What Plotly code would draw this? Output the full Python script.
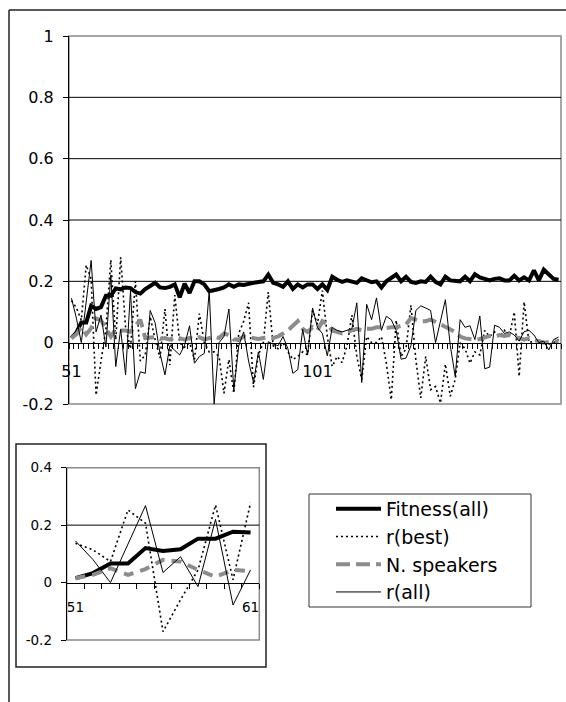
import plotly.graph_objects as go

# ---------------- data ----------------
generations = list(range(51, 151))

fitness_all = [0.015, 0.033, 0.066, 0.066, 0.12, 0.11, 0.116, 0.153, 0.153, 0.177,
               0.174, 0.18, 0.178, 0.165, 0.16, 0.175, 0.185, 0.195, 0.18, 0.178,
               0.182, 0.19, 0.148, 0.192, 0.162, 0.2, 0.2, 0.19, 0.168, 0.17,
               0.175, 0.18, 0.19, 0.182, 0.19, 0.188, 0.19, 0.195, 0.198, 0.2,
               0.222, 0.195, 0.19, 0.182, 0.2, 0.175, 0.19, 0.18, 0.19, 0.19,
               0.175, 0.19, 0.172, 0.215, 0.205, 0.198, 0.203, 0.198, 0.195, 0.21,
               0.202, 0.197, 0.2, 0.18, 0.2, 0.21, 0.222, 0.2, 0.215, 0.198,
               0.195, 0.2, 0.198, 0.215, 0.198, 0.19, 0.215, 0.203, 0.2, 0.2,
               0.215, 0.2, 0.223, 0.213, 0.208, 0.203, 0.208, 0.21, 0.203, 0.203,
               0.218, 0.203, 0.213, 0.203, 0.236, 0.203, 0.238, 0.222, 0.208, 0.205]

r_best = [0.137, 0.114, 0.073, 0.253, 0.207, -0.171, -0.06, 0.044, 0.27, 0.01,
          0.278, 0.05, -0.02, 0.2, -0.06, -0.04, 0.085, 0.01, -0.05, 0.11,
          -0.073, 0.155, 0.0, -0.015, 0.0, -0.055, 0.095, 0.0, -0.03, -0.03,
          -0.045, -0.165, -0.055, -0.165, 0.03, 0.07, 0.13, -0.145, -0.04, 0.0,
          0.165, -0.01, -0.02, 0.0, -0.03, -0.055, -0.045, -0.03, -0.04, 0.105,
          0.06, 0.17, 0.02, -0.078, -0.045, -0.065, -0.01, 0.09, -0.045, -0.12,
          0.02, 0.0, 0.0, 0.02, -0.067, -0.186, 0.073, -0.045, -0.02, 0.122,
          -0.056, -0.18, -0.045, -0.153, -0.143, -0.197, -0.07, -0.175, -0.12, 0.0,
          -0.02, -0.067, -0.03, -0.04, 0.04, 0.02, 0.035, 0.02, 0.04, 0.02,
          0.1, -0.11, 0.133, 0.0, 0.005, 0.01, 0.0, -0.005, 0.0, 0.01]

n_speakers = [0.015, 0.027, 0.05, 0.027, 0.047, 0.079, 0.073, 0.044, 0.02, 0.044,
              0.04, 0.04, 0.035, 0.055, 0.075, 0.015, 0.015, 0.018, 0.012, 0.015,
              0.01, 0.018, 0.015, 0.01, 0.015, 0.012, 0.018, 0.01, 0.015, 0.02,
              0.015, 0.03, 0.025, 0.01, 0.01, 0.02, 0.018, 0.015, 0.012, 0.015,
              0.018, 0.015, 0.02, 0.03, 0.04, 0.055, 0.07, 0.045, 0.035, 0.05,
              0.04, 0.07, 0.06, 0.04, 0.035, 0.03, 0.035, 0.04, 0.045, 0.04,
              0.045, 0.045, 0.05, 0.05, 0.048, 0.05, 0.05, 0.055, 0.06, 0.08,
              0.075, 0.07, 0.07, 0.075, 0.068, 0.06, 0.05, 0.045, 0.035, 0.02,
              0.014, 0.012, 0.01, 0.012, 0.018, 0.022, 0.02, 0.025, 0.022, 0.025,
              0.02, 0.015, 0.01, 0.015, 0.008, 0.005, 0.0, 0.002, 0.005, 0.005]

r_all = [0.145, 0.08, 0.0, 0.137, 0.268, 0.035, 0.09, -0.014, 0.22, -0.078,
         0.044, -0.105, 0.17, -0.15, -0.095, -0.1, 0.105, 0.065, -0.035, -0.105,
         -0.01, -0.025, -0.04, -0.008, 0.055, -0.067, -0.045, -0.035, 0.17, -0.2,
         0.0, 0.02, 0.11, -0.155, -0.01, 0.035, -0.06, -0.13, -0.03, -0.12,
         0.003, -0.005, -0.01, 0.02, -0.02, -0.1, -0.088, 0.043, -0.04, 0.113,
         0.05, 0.03, -0.043, 0.05, 0.04, 0.035, 0.04, 0.045, 0.13, -0.13,
         0.125, 0.075, 0.146, 0.04, 0.086, 0.075, 0.04, -0.054, -0.05, -0.01,
         0.105, 0.12, 0.113, 0.105, 0.0, 0.07, 0.14, -0.01, -0.11, 0.075,
         0.05, 0.055, 0.01, 0.087, -0.085, -0.08, 0.057, 0.05, 0.03, 0.035,
         0.025, 0.005, 0.036, 0.04, 0.025, 0.0, 0.005, -0.024, 0.01, 0.018]

inset_count = 11  # first generations shown in the inset

main_xticks = [51, 101]
inset_xticks = [51, 61]
main_yticks = [-0.2, 0, 0.2, 0.4, 0.6, 0.8, 1]
inset_yticks = [-0.2, 0, 0.2, 0.4]

series_names = ["Fitness(all)", "r(best)", "N. speakers", "r(all)"]

# ---------------- layout helpers ----------------
W, H = 566, 702
FONT = "DejaVu Sans, Liberation Sans, Arial, sans-serif"


def fx(px):
    return px / W


def fy(py):
    return 1 - py / H


def ylab(v):
    return "0" if v == 0 else ("%g" % v)


main_dom_x = [fx(69), fx(561)]
main_dom_y = [fy(404), fy(36)]
main_yrange = [-0.2, 1.0]
main_zero = main_dom_y[0] + (0 - main_yrange[0]) / (main_yrange[1] - main_yrange[0]) * (main_dom_y[1] - main_dom_y[0])

ins_dom_x = [fx(66.7), fx(259.3)]
ins_dom_y = [fy(640), fy(467.7)]
ins_yrange = [-0.2, 0.4]
ins_zero = ins_dom_y[0] + (0 - ins_yrange[0]) / (ins_yrange[1] - ins_yrange[0]) * (ins_dom_y[1] - ins_dom_y[0])

styles = {
    "Fitness(all)": dict(color="black", width=4),
    "r(best)": dict(color="black", width=1.6, dash="2px,3px"),
    "N. speakers": dict(color="#8c8c8c", width=4, dash="14px,6px"),
    "r(all)": dict(color="black", width=1),
}
ins_styles = dict(styles)
ins_styles["N. speakers"] = dict(color="#8c8c8c", width=4, dash="10px,7px")

values = {"Fitness(all)": fitness_all, "r(best)": r_best,
          "N. speakers": n_speakers, "r(all)": r_all}

fig = go.Figure()
for name in series_names:
    fig.add_trace(go.Scatter(x=generations, y=values[name], mode="lines", name=name,
                             line=styles[name], xaxis="x", yaxis="y",
                             showlegend=True, hoverinfo="skip"))
for name in series_names:
    fig.add_trace(go.Scatter(x=generations[:inset_count], y=values[name][:inset_count],
                             mode="lines", name=name, line=ins_styles[name],
                             xaxis="x2", yaxis="y2", showlegend=False, hoverinfo="skip"))

main_bounds = [g - 0.5 for g in generations] + [generations[-1] + 0.5]
ins_bounds = [g - 0.5 for g in generations[:inset_count]] + [generations[inset_count - 1] + 0.5]

axis_font = dict(family=FONT, size=16, color="black")
ins_font = dict(family=FONT, size=13.5, color="black")

fig.update_layout(
    template="none",
    width=W, height=H, autosize=False,
    margin=dict(l=0, r=0, t=0, b=0, pad=0),
    paper_bgcolor="white", plot_bgcolor="rgba(0,0,0,0)",
    font=dict(family=FONT, color="black"),
    xaxis=dict(domain=main_dom_x, range=[50.5, 150.5], anchor="free", position=main_zero,
               showline=True, linecolor="black", linewidth=1, automargin=False,
               tickmode="array", tickvals=main_xticks, ticktext=[str(t) for t in main_xticks],
               ticks="", ticklabelstandoff=14, tickfont=axis_font,
               showgrid=False, zeroline=False,
               minor=dict(tickmode="array", tickvals=main_bounds, ticks="outside",
                          ticklen=5, tickcolor="black", tickwidth=1, showgrid=False)),
    yaxis=dict(domain=main_dom_y, range=main_yrange, anchor="x",
               showline=True, linecolor="black", linewidth=1, automargin=False,
               tickmode="array", tickvals=main_yticks, ticktext=[ylab(v) for v in main_yticks],
               ticks="outside", ticklen=5, tickcolor="black", ticklabelstandoff=6,
               tickfont=axis_font, showgrid=False, zeroline=False),
    xaxis2=dict(domain=ins_dom_x, range=[50.5, 61.5], anchor="free", position=ins_zero,
                showline=True, linecolor="black", linewidth=1, automargin=False,
                tickmode="array", tickvals=inset_xticks, ticktext=[str(t) for t in inset_xticks],
                ticks="", ticklabelstandoff=12, tickfont=ins_font,
                showgrid=False, zeroline=False,
                minor=dict(tickmode="array", tickvals=ins_bounds, ticks="outside",
                           ticklen=5, tickcolor="black", tickwidth=1, showgrid=False)),
    yaxis2=dict(domain=ins_dom_y, range=ins_yrange, anchor="x2",
                showline=True, linecolor="black", linewidth=1, automargin=False,
                tickmode="array", tickvals=inset_yticks, ticktext=[ylab(v) for v in inset_yticks],
                ticks="outside", ticklen=5, tickcolor="black", ticklabelstandoff=6,
                tickfont=ins_font, showgrid=False, zeroline=False),
    legend=dict(x=fx(331), y=fy(490), xanchor="left", yanchor="top",
                bgcolor="rgba(0,0,0,0)", borderwidth=0,
                font=dict(family=FONT, size=19, color="black"),
                itemwidth=45, tracegroupgap=0),
    showlegend=True,
)

shapes = [
    # outer frame (left and top edges)
    dict(type="line", xref="paper", yref="paper", x0=fx(9), x1=fx(9), y0=fy(10), y1=fy(702),
         line=dict(color="#222", width=1.5)),
    dict(type="line", xref="paper", yref="paper", x0=fx(9), x1=fx(566), y0=fy(10), y1=fy(10),
         line=dict(color="#222", width=1.5)),
    # main plot area border
    dict(type="rect", xref="x domain", yref="y domain", x0=0, x1=1, y0=0, y1=1,
         line=dict(color="#8a8a8a", width=1.5), layer="below"),
    # inset frame
    dict(type="rect", xref="paper", yref="paper", x0=fx(16), x1=fx(266), y0=fy(667), y1=fy(444),
         line=dict(color="#222", width=1.5)),
    # inset plot area border
    dict(type="rect", xref="x2 domain", yref="y2 domain", x0=0, x1=1, y0=0, y1=1,
         line=dict(color="#8a8a8a", width=1.5), layer="below"),
    # legend box
    dict(type="rect", xref="paper", yref="paper", x0=fx(309), x1=fx(531), y0=fy(607), y1=fy(494),
         line=dict(color="#333", width=1)),
]
# horizontal gridlines at inner positive ticks
for v in main_yticks:
    if 0 < v < main_yrange[1]:
        shapes.append(dict(type="line", xref="x domain", yref="y", x0=0, x1=1, y0=v, y1=v,
                           line=dict(color="black", width=1), layer="below"))
for v in inset_yticks:
    if 0 < v < ins_yrange[1]:
        shapes.append(dict(type="line", xref="x2 domain", yref="y2", x0=0, x1=1, y0=v, y1=v,
                           line=dict(color="black", width=1), layer="below"))
fig.update_layout(shapes=shapes)

fig.write_html("out.html", config={"displayModeBar": False, "staticPlot": True},
               post_script="document.body.style.margin='0px';document.body.style.overflow='hidden';")
